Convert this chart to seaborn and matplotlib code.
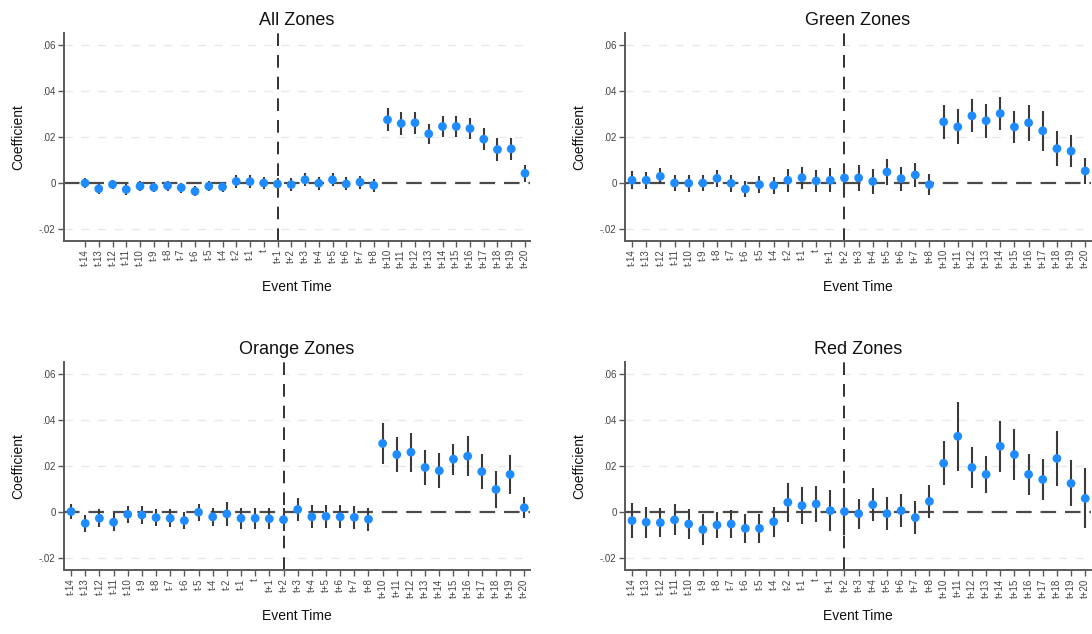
import numpy as np
import pandas as pd
import matplotlib
matplotlib.use("Agg")
import matplotlib.pyplot as plt
import seaborn as sns

# ==========================================
# DATA
# ==========================================

event_labels = (
    [f"t-{k}" for k in range(14, 3, -1)]
    + ["t-2", "t-1", "t"]
    + [f"t+{k}" for k in range(1, 9)]
    + [f"t+{k}" for k in range(10, 21)]
)

all_coef = [0.0, -0.0025, -0.0006, -0.0028, -0.0014, -0.0019, -0.0012, -0.002,
            -0.0036, -0.0014, -0.0017, 0.0007, 0.0006, 0.0, -0.0004, -0.0007,
            0.0014, -0.0001, 0.0014, -0.0004, 0.0004, -0.001,
            0.0274, 0.0258, 0.0261, 0.0213, 0.0245, 0.0245, 0.0236, 0.019,
            0.0145, 0.0148, 0.0042]
all_ci = [0.0022, 0.0022, 0.002, 0.0022, 0.0022, 0.0022, 0.0022, 0.0022,
          0.0022, 0.0022, 0.0022, 0.0028, 0.0028, 0.0025, 0.0025, 0.0028,
          0.0028, 0.0028, 0.0028, 0.0028, 0.0028, 0.0028,
          0.0049, 0.0049, 0.0047, 0.0043, 0.0047, 0.0045, 0.0047, 0.0047,
          0.005, 0.0047, 0.0036]

green_coef = [0.0012, 0.0012, 0.0029, 0.0, -0.0001, 0.0, 0.002, -0.0001,
              -0.0026, -0.0007, -0.001, 0.0012, 0.0023, 0.0009, 0.0012, 0.0022,
              0.0022, 0.0007, 0.0048, 0.0019, 0.0035, -0.0007,
              0.0265, 0.0243, 0.0291, 0.027, 0.0301, 0.0243, 0.0261, 0.0226,
              0.0149, 0.0138, 0.0052]
green_ci = [0.0038, 0.0036, 0.0035, 0.0036, 0.0036, 0.0034, 0.0038, 0.0036,
            0.0036, 0.0036, 0.0036, 0.005, 0.0048, 0.0047, 0.0053, 0.0055,
            0.0056, 0.0053, 0.0056, 0.0052, 0.0052, 0.0047,
            0.0075, 0.0076, 0.0072, 0.0073, 0.0072, 0.0069, 0.0078, 0.0086,
            0.0076, 0.007, 0.0058]

orange_coef = [0.0003, -0.0048, -0.0026, -0.0043, -0.0009, -0.0012, -0.0023,
               -0.0026, -0.0036, 0.0, -0.002, -0.0007, -0.0026, -0.0026,
               -0.0028, -0.0032, 0.0012, -0.002, -0.0018, -0.002, -0.0022,
               -0.003, 0.0298, 0.025, 0.026, 0.0194, 0.018, 0.023, 0.0243,
               0.0176, 0.0099, 0.0164, 0.002]
orange_ci = [0.0033, 0.0038, 0.0038, 0.004, 0.0038, 0.0037, 0.0038, 0.0038,
             0.0038, 0.0037, 0.0038, 0.0052, 0.0046, 0.0046, 0.0046, 0.005,
             0.005, 0.005, 0.005, 0.005, 0.005, 0.005,
             0.009, 0.0074, 0.0085, 0.0076, 0.0076, 0.0067, 0.0087, 0.0076,
             0.008, 0.0085, 0.0046]

red_coef = [-0.0036, -0.0043, -0.0045, -0.0033, -0.0051, -0.0075, -0.0055,
            -0.0051, -0.007, -0.007, -0.0041, 0.0043, 0.0029, 0.0036, 0.0007,
            0.0003, -0.0006, 0.0033, -0.0006, 0.0007, -0.0023, 0.0047,
            0.0212, 0.0329, 0.0194, 0.0164, 0.0286, 0.025, 0.0164, 0.0142,
            0.0233, 0.0125, 0.006]
red_ci = [0.0075, 0.0067, 0.0063, 0.0067, 0.0065, 0.0066, 0.0058, 0.006,
          0.0064, 0.0064, 0.0065, 0.0085, 0.0082, 0.0078, 0.009, 0.01,
          0.0065, 0.007, 0.007, 0.007, 0.007, 0.007,
          0.0095, 0.015, 0.009, 0.008, 0.011, 0.011, 0.009, 0.009,
          0.012, 0.01, 0.013]

panel_titles = ["All Zones", "Green Zones", "Orange Zones", "Red Zones"]
panel_coefs = [all_coef, green_coef, orange_coef, red_coef]
panel_cis = [all_ci, green_ci, orange_ci, red_ci]
event_line_label = ["t+1", "t+2", "t+2", "t+2"]

y_ticks = [-0.02, 0, 0.02, 0.04, 0.06]
y_tick_labels = ["-.02", "0", ".02", ".04", ".06"]

# ==========================================
# FIGURE
# ==========================================

sns.set_theme(style="white")
plt.rcParams["font.family"] = ["Arial", "Liberation Sans", "DejaVu Sans"]

fig = plt.figure(figsize=(10.92, 6.34), dpi=100)

axes_boxes = [
    [0.0586, 0.6203, 0.4267, 0.3277],
    [0.5723, 0.6203, 0.4267, 0.3277],
    [0.0586, 0.1010, 0.4267, 0.3277],
    [0.5723, 0.1010, 0.4267, 0.3277],
]
x_limits = [(-1.53, 32.36), (-0.5, 32.4), (-0.5, 32.4), (-0.5, 32.4)]

point_color = "#1E8CFF"
bar_color = "#3a3a3a"
spine_color = "#5a5a5a"

for i in range(4):

    ax = fig.add_axes(axes_boxes[i])

    frame = pd.DataFrame({
        "pos": np.arange(len(event_labels)),
        "label": event_labels,
        "coef": panel_coefs[i],
        "ci": panel_cis[i],
    })

    # light reference grid
    for yv in [-0.02, 0.02, 0.04, 0.06]:
        ax.axhline(yv, color="#e9e9e9", lw=1.0, ls=(0, (6, 6)), zorder=0)

    ax.axhline(0, color="#4a4a4a", lw=1.6, ls=(0, (7, 4)), zorder=1)

    line_pos = event_labels.index(event_line_label[i])
    ax.axvline(line_pos, color="#222222", lw=1.3, ls=(0, (7, 5)), zorder=1)

    ax.vlines(
        frame["pos"],
        frame["coef"] - frame["ci"],
        frame["coef"] + frame["ci"],
        color=bar_color,
        lw=1.5,
        zorder=2,
    )

    sns.scatterplot(
        data=frame,
        x="pos",
        y="coef",
        ax=ax,
        color=point_color,
        s=40,
        edgecolor="none",
        zorder=3,
    )

    ax.set_xlim(*x_limits[i])
    ax.set_ylim(-0.025, 0.065)

    ax.set_xticks(frame["pos"])
    ax.set_xticklabels(event_labels, rotation=90, fontsize=7, color="#444444")
    ax.set_yticks(y_ticks)
    ax.set_yticklabels(y_tick_labels, fontsize=7, color="#444444")

    ax.tick_params(axis="both", direction="out", length=4, width=1,
                   color=spine_color, bottom=True, left=True, pad=2)

    for side in ["top", "right"]:
        ax.spines[side].set_visible(False)
    for side in ["left", "bottom"]:
        ax.spines[side].set_color(spine_color)
        ax.spines[side].set_linewidth(1.4)

    ax.set_title(panel_titles[i], fontsize=13, color="#111111", pad=6)
    ax.set_xlabel("Event Time", fontsize=10, color="#111111", labelpad=8)
    ax.set_ylabel("Coefficient", fontsize=10, color="#111111", labelpad=10)

fig.savefig("out.png", dpi=100)
